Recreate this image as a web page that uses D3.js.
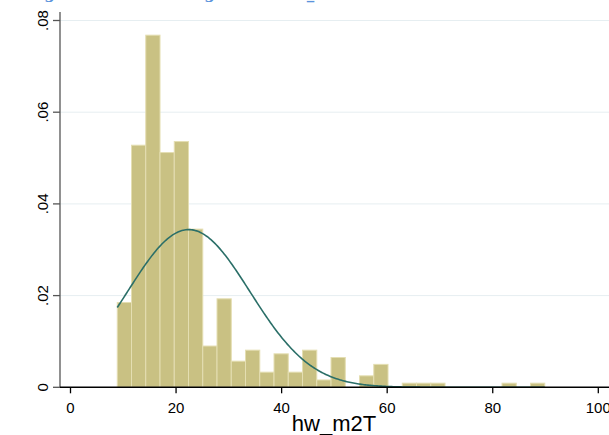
<!DOCTYPE html>
<html>
<head>
<meta charset="utf-8">
<script src="https://cdn.jsdelivr.net/npm/d3@7"></script>
<style>
  body { margin: 0; background: #fff; }
  svg { display: block; font-family: "Liberation Sans", Arial, sans-serif; }
  .grid line { stroke: #e6eef1; stroke-width: 1; }
  .bar { fill: #c9c183; stroke: #e4deb2; stroke-width: 1; }
  .fit { fill: none; stroke: #2b6f68; stroke-width: 1.6; }
</style>
</head>
<body>
<svg id="chart" width="609" height="435"></svg>
<script>
// histogram bins (density scale)
const binStart = 8.86;
const binWidth = 2.70;
const densities = [
  0.0185, 0.0528, 0.0768, 0.0512, 0.0536, 0.0345, 0.0090, 0.0193, 0.0057, 0.0081,
  0.0033, 0.0073, 0.0033, 0.0081, 0.0016, 0.0065, 0, 0.0025, 0.0050, 0,
  0.0009, 0.0009, 0.0009, 0, 0, 0, 0, 0.0009, 0, 0.0009
];

// normal fit overlay
const fitMean = 22.4;
const fitSd = 11.6;

const xTicks = [0, 20, 40, 60, 80, 100];
const yTicks = [0, 0.02, 0.04, 0.06, 0.08];
const yTickLabels = ["0", ".02", ".04", ".06", ".08"];
const xTitle = "hw_m2T";

const svg = d3.select("#chart");
const margin = { left: 60, right: 0, top: 12, bottom: 387 };

const x = d3.scaleLinear().domain([0, 100]).range([70.5, 598.3]);
const y = d3.scaleLinear().domain([0, 0.08]).range([387.3, 20.5]);

// title, mostly cut off at the top edge
svg.append("text")
    .attr("x", 28)
    .attr("y", -1)
    .style("font-family", "'DejaVu Serif', serif")
    .style("font-weight", "bold")
    .style("font-size", "15px")
    .attr("fill", "#5b93dc")
    .text("Figure 2: Stata Histogram for hw_m2T");

// gridlines
svg.append("g")
    .classed("grid", true)
    .selectAll("line")
    .data(yTicks.slice(1))
    .enter()
    .append("line")
    .attr("x1", margin.left)
    .attr("x2", 609)
    .attr("y1", d => y(d))
    .attr("y2", d => y(d));

// bars
const bins = densities.map((d, i) => ({ x0: binStart + i * binWidth, x1: binStart + (i + 1) * binWidth, density: d }));
svg.append("g")
    .selectAll("rect")
    .data(bins.filter(d => d.density > 0))
    .enter()
    .append("rect")
    .classed("bar", true)
    .attr("x", d => x(d.x0))
    .attr("width", d => x(d.x1) - x(d.x0))
    .attr("y", d => y(d.density))
    .attr("height", d => y(0) - y(d.density));

// normal density curve
const xMax = binStart + densities.length * binWidth;
const curvePts = d3.range(binStart, xMax + 0.01, 0.25).map(v => [v, Math.exp(-0.5 * ((v - fitMean) / fitSd) ** 2) / (fitSd * Math.sqrt(2 * Math.PI))]);
svg.append("path")
    .classed("fit", true)
    .attr("d", d3.line().x(d => x(d[0])).y(d => y(d[1]))(curvePts));

// y axis
const yAxis = svg.append("g").attr("transform", `translate(${margin.left},0)`);
yAxis.append("line")
    .attr("x1", 0).attr("x2", 0)
    .attr("y1", margin.top).attr("y2", y(0))
    .attr("stroke", "#555").attr("stroke-width", 1.3);
yAxis.selectAll("line.tick")
    .data(yTicks)
    .enter()
    .append("line")
    .classed("tick", true)
    .attr("x1", -7).attr("x2", 0)
    .attr("y1", d => y(d)).attr("y2", d => y(d))
    .attr("stroke", "#555").attr("stroke-width", 1.3);
yAxis.selectAll("text")
    .data(yTicks)
    .enter()
    .append("text")
    .attr("transform", d => `translate(-12,${y(d)}) rotate(-90)`)
    .style("text-anchor", "middle")
    .style("font-size", "15px")
    .attr("fill", "#000")
    .text((d, i) => yTickLabels[i]);

// x axis
const xAxis = svg.append("g").attr("transform", `translate(0,${y(0)})`);
xAxis.append("line")
    .attr("x1", margin.left).attr("x2", 609)
    .attr("y1", 0).attr("y2", 0)
    .attr("stroke", "#000").attr("stroke-width", 1.4);
xAxis.selectAll("line.tick")
    .data(xTicks)
    .enter()
    .append("line")
    .classed("tick", true)
    .attr("x1", d => x(d)).attr("x2", d => x(d))
    .attr("y1", 0).attr("y2", 6)
    .attr("stroke", "#000").attr("stroke-width", 1.3);
xAxis.selectAll("text")
    .data(xTicks)
    .enter()
    .append("text")
    .attr("x", d => x(d))
    .attr("y", 25.5)
    .style("text-anchor", "middle")
    .style("font-size", "15px")
    .text(d => d);

svg.append("text")
    .attr("x", 334)
    .attr("y", 430.5)
    .style("text-anchor", "middle")
    .style("font-size", "22px")
    .text(xTitle);
</script>
</body>
</html>
